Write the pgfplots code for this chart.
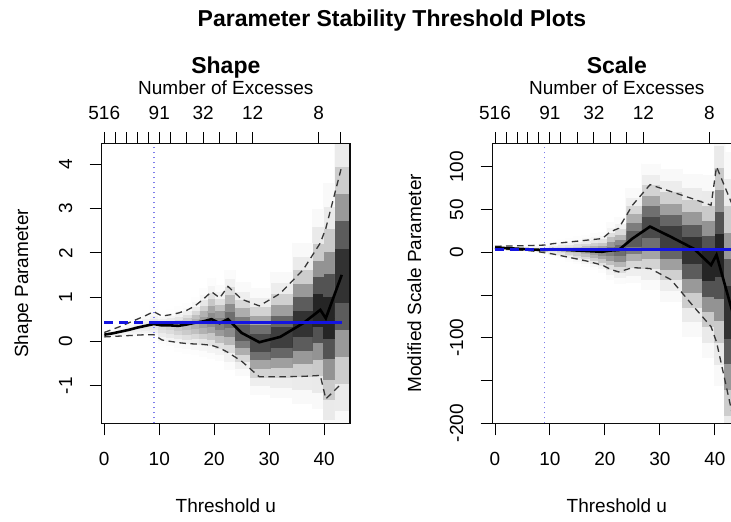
\documentclass[border=0pt]{standalone}
\usepackage{fontspec}
\setmainfont{Liberation Sans}
\usepackage{pgfplots}
\usepackage{pgfplotstable}
\pgfplotsset{compat=1.18}

% ---------- Shape panel data ----------
\pgfplotstableread{
u est lo hi
0 0.15 0.10 0.20
1.5 0.18 0.11 0.27
3 0.22 0.12 0.34
4.5 0.26 0.13 0.42
6 0.31 0.14 0.50
7.5 0.35 0.15 0.58
9 0.39 0.15 0.67
10.5 0.36 0.03 0.57
12 0.36 0.00 0.60
13.5 0.35 -0.03 0.64
15 0.38 -0.05 0.70
16.5 0.42 -0.06 0.80
18 0.45 -0.07 0.95
19.5 0.50 -0.09 1.12
21 0.41 -0.15 0.98
22.5 0.50 -0.25 1.24
25 0.19 -0.45 0.95
28.2 -0.02 -0.80 0.80
32 0.10 -0.80 1.08
36.2 0.41 -0.79 1.62
39.3 0.71 -0.77 2.22
40.3 0.52 -1.30 2.55
43.2 1.50 -0.95 3.95
}\shapelines

\pgfplotstableread{
x est lo hi d
-0.75 0.15 0.10 0.20 0.04
0.75 0.15 0.10 0.20 0.04
0.75 0.18 0.11 0.27 0.05
2.25 0.18 0.11 0.27 0.05
2.25 0.22 0.12 0.34 0.06
3.75 0.22 0.12 0.34 0.06
3.75 0.26 0.13 0.42 0.07
5.25 0.26 0.13 0.42 0.07
5.25 0.31 0.14 0.50 0.08
6.75 0.31 0.14 0.50 0.08
6.75 0.35 0.15 0.58 0.10
8.25 0.35 0.15 0.58 0.10
8.25 0.39 0.15 0.67 0.12
9.75 0.39 0.15 0.67 0.12
9.75 0.36 0.03 0.57 0.15
11.25 0.36 0.03 0.57 0.15
11.25 0.36 0.00 0.60 0.18
12.75 0.36 0.00 0.60 0.18
12.75 0.35 -0.03 0.64 0.22
14.25 0.35 -0.03 0.64 0.22
14.25 0.38 -0.05 0.70 0.27
15.75 0.38 -0.05 0.70 0.27
15.75 0.42 -0.06 0.80 0.33
17.25 0.42 -0.06 0.80 0.33
17.25 0.45 -0.07 0.95 0.40
18.75 0.45 -0.07 0.95 0.40
18.75 0.50 -0.09 1.12 0.47
20.25 0.50 -0.09 1.12 0.47
20.25 0.41 -0.15 0.98 0.53
21.75 0.41 -0.15 0.98 0.53
21.75 0.50 -0.25 1.24 0.60
23.75 0.50 -0.25 1.24 0.60
23.75 0.19 -0.45 0.95 0.68
26.6 0.19 -0.45 0.95 0.68
26.6 -0.02 -0.80 0.80 0.75
30.1 -0.02 -0.80 0.80 0.75
30.1 0.10 -0.80 1.08 0.80
34.1 0.10 -0.80 1.08 0.80
34.1 0.41 -0.79 1.62 0.85
37.75 0.41 -0.79 1.62 0.85
37.75 0.71 -0.77 2.22 0.90
39.8 0.71 -0.77 2.22 0.90
39.8 0.52 -1.30 2.55 0.90
41.75 0.52 -1.30 2.55 0.90
41.75 1.50 -0.95 3.95 0.85
44.75 1.50 -0.95 3.95 0.85
}\shapebase

% ---------- Scale panel data ----------
\pgfplotstableread{
u est lo hi
0 5.5 4 7
1.5 5.0 3.5 7.2
3 4.5 3 7.4
4.5 4.0 2.5 7.6
6 3.5 2 7.8
7.5 3.0 1 8.1
9 2.6 -0.5 8.4
10.5 3.5 -2 10
12 3.0 -4 11
13.5 2.5 -6 12
15 2.0 -8 13
16.5 1.5 -10 14
18 1.0 -12.5 15
19.5 0.6 -15 16
21 2.0 -20 24
22.5 2.6 -23 28
25 16 -18 55
28.2 30 -19 79
32 18 -32 71
36.2 4 -64 62
39.3 -15 -87 55
40.3 -3 -105 100
43.2 -70 -190 55
}\scalelines

\pgfplotstableread{
x est lo hi d
-0.75 5.5 4 7 0.04
0.75 5.5 4 7 0.04
0.75 5.0 3.5 7.2 0.05
2.25 5.0 3.5 7.2 0.05
2.25 4.5 3 7.4 0.06
3.75 4.5 3 7.4 0.06
3.75 4.0 2.5 7.6 0.07
5.25 4.0 2.5 7.6 0.07
5.25 3.5 2 7.8 0.08
6.75 3.5 2 7.8 0.08
6.75 3.0 1 8.1 0.10
8.25 3.0 1 8.1 0.10
8.25 2.6 -0.5 8.4 0.12
9.75 2.6 -0.5 8.4 0.12
9.75 3.5 -2 10 0.15
11.25 3.5 -2 10 0.15
11.25 3.0 -4 11 0.18
12.75 3.0 -4 11 0.18
12.75 2.5 -6 12 0.22
14.25 2.5 -6 12 0.22
14.25 2.0 -8 13 0.27
15.75 2.0 -8 13 0.27
15.75 1.5 -10 14 0.33
17.25 1.5 -10 14 0.33
17.25 1.0 -12.5 15 0.40
18.75 1.0 -12.5 15 0.40
18.75 0.6 -15 16 0.47
20.25 0.6 -15 16 0.47
20.25 2.0 -20 24 0.53
21.75 2.0 -20 24 0.53
21.75 2.6 -23 28 0.60
23.75 2.6 -23 28 0.60
23.75 16 -18 55 0.68
26.6 16 -18 55 0.68
26.6 30 -19 79 0.75
30.1 30 -19 79 0.75
30.1 18 -32 71 0.80
34.1 18 -32 71 0.80
34.1 4 -64 62 0.85
37.75 4 -64 62 0.85
37.75 -15 -87 55 0.90
39.8 -15 -87 55 0.90
39.8 -3 -105 100 0.90
41.75 -3 -105 100 0.90
41.75 -70 -190 55 0.85
44.75 -70 -190 55 0.85
}\scalebase

% replicate the strip table for the 13 shading levels
\foreach \i in {1,...,13}{%
  \global\let\tmpA\relax
}
\pgfplotstablevertcat{\shapemesh}{\shapebase}
\pgfplotstablevertcat{\shapemesh}{\shapebase}
\pgfplotstablevertcat{\shapemesh}{\shapebase}
\pgfplotstablevertcat{\shapemesh}{\shapebase}
\pgfplotstablevertcat{\shapemesh}{\shapebase}
\pgfplotstablevertcat{\shapemesh}{\shapebase}
\pgfplotstablevertcat{\shapemesh}{\shapebase}
\pgfplotstablevertcat{\shapemesh}{\shapebase}
\pgfplotstablevertcat{\shapemesh}{\shapebase}
\pgfplotstablevertcat{\shapemesh}{\shapebase}
\pgfplotstablevertcat{\shapemesh}{\shapebase}
\pgfplotstablevertcat{\shapemesh}{\shapebase}
\pgfplotstablevertcat{\shapemesh}{\shapebase}
\pgfplotstablevertcat{\scalemesh}{\scalebase}
\pgfplotstablevertcat{\scalemesh}{\scalebase}
\pgfplotstablevertcat{\scalemesh}{\scalebase}
\pgfplotstablevertcat{\scalemesh}{\scalebase}
\pgfplotstablevertcat{\scalemesh}{\scalebase}
\pgfplotstablevertcat{\scalemesh}{\scalebase}
\pgfplotstablevertcat{\scalemesh}{\scalebase}
\pgfplotstablevertcat{\scalemesh}{\scalebase}
\pgfplotstablevertcat{\scalemesh}{\scalebase}
\pgfplotstablevertcat{\scalemesh}{\scalebase}
\pgfplotstablevertcat{\scalemesh}{\scalebase}
\pgfplotstablevertcat{\scalemesh}{\scalebase}
\pgfplotstablevertcat{\scalemesh}{\scalebase}

\definecolor{estblue}{RGB}{20,20,225}
\definecolor{dotblue}{RGB}{125,125,235}
\definecolor{cigray}{RGB}{55,55,55}
\definecolor{framecol}{RGB}{12,12,12}

\pgfplotsset{
  psbase/.style={
    scale only axis, width=248.3pt, height=280pt,
    anchor=south west,
    /pgf/number format/assume math mode=true,
    tick label style={font=\fontsize{19}{22}\selectfont},
    label style={font=\fontsize{19}{22}\selectfont},
    title style={font=\fontsize{23}{27}\selectfont\bfseries,
      at={([yshift=64pt]axis description cs:0.5,1)}, anchor=base},
    axis line style={draw=framecol, line width=1.3pt},
    tick style={line width=1pt, black},
    major tick length=12pt,
    tick align=outside,
    tick pos=left,
    xticklabel style={anchor=center, yshift=-23.7pt},
    yticklabel style={xshift=-24pt, rotate=90, anchor=center},
    xlabel style={at={([yshift=-82.7pt]axis description cs:0.5,0)}, anchor=center},
    ylabel style={at={([xshift=-78.4pt]axis description cs:0,0.5)}, anchor=center},
    colormap={bwmap}{rgb255=(255,255,255) rgb255=(0,0,0)},
    point meta min=0, point meta max=1,
  },
  topaxis/.style={
    scale only axis, width=248.3pt, height=280pt,
    anchor=south west,
    ymin=0, ymax=1, ytick=\empty,
    xtick={0,2,4,6,8,10,12,15,18,21,24,27,39,43},
    xticklabels={516,,,,,91,,,32,,,12,8,},
    tick pos=right, xticklabel pos=upper,
    tick align=outside, major tick length=11pt,
    tick style={line width=1pt, black},
    axis line style={draw=framecol, line width=1.3pt},
    tick label style={font=\fontsize{19}{22}\selectfont},
    label style={font=\fontsize{19}{22}\selectfont},
    xticklabel style={anchor=center, yshift=19pt},
    xlabel={Number of Excesses},
    xlabel style={at={([yshift=55.3pt]axis description cs:0.5,1)}, anchor=center},
  },
  strips/.style={surf, shader=flat mean, mesh/rows=13, mesh/cols=46,
    point meta=explicit, forget plot},
  cistyle/.style={cigray, line width=1.3pt, dash pattern=on 6.5pt off 4.5pt},
  eststyle/.style={black, line width=2.6pt},
  dotstyle/.style={dotblue, line width=1.5pt, dash pattern=on 1.5pt off 3.5pt},
}

\begin{document}
\begin{tikzpicture}
\node[font=\fontsize{23}{27}\selectfont\bfseries, anchor=base] at (392pt,495pt) {Parameter Stability Threshold Plots};

% ---------------- Shape ----------------
\begin{axis}[psbase, at={(101.7pt,98.7pt)},
  xmin=-0.47, xmax=44.7, ymin=-1.85, ymax=4.47,
  xtick={0,10,20,30,40}, ytick={-1,0,1,2,3,4},
  title={Shape}, xlabel={Threshold u}, ylabel={Shape Parameter}]
\addplot[strips] table[x=x,
  y expr={\thisrow{est}+((floor(\coordindex/46)-6)/2)*((floor(\coordindex/46)<6) ? (\thisrow{est}-\thisrow{lo})/2 : (\thisrow{hi}-\thisrow{est})/2)},
  meta expr={\thisrow{d}*exp(-0.125*(floor(\coordindex/46)-6)^2)}] {\shapemesh};
\addplot[dotstyle] coordinates {(9,-1.85) (9,4.47)};
\addplot[cistyle] table[x=u, y=hi] {\shapelines};
\addplot[cistyle] table[x=u, y=lo] {\shapelines};
\addplot[eststyle] table[x=u, y=est] {\shapelines};
\addplot[estblue, line width=2.8pt, dash pattern=on 9pt off 6pt] coordinates {(0,0.42) (9,0.42)};
\addplot[estblue, line width=2.8pt] coordinates {(9,0.42) (43.2,0.42)};
\end{axis}
\begin{axis}[topaxis, at={(101.7pt,98.7pt)}, xmin=-0.47, xmax=44.7]
\end{axis}

% ---------------- Scale ----------------
\begin{axis}[psbase, at={(492.7pt,98.7pt)},
  xmin=-0.42, xmax=44.75, ymin=-200, ymax=127.4,
  xtick={0,10,20,30,40}, ytick={-200,-150,-100,-50,0,50,100},
  yticklabels={-200,,-100,,0,50,100},
  title={Scale}, xlabel={Threshold u}, ylabel={Modified Scale Parameter}]
\addplot[strips] table[x=x,
  y expr={\thisrow{est}+((floor(\coordindex/46)-6)/2)*((floor(\coordindex/46)<6) ? (\thisrow{est}-\thisrow{lo})/2 : (\thisrow{hi}-\thisrow{est})/2)},
  meta expr={\thisrow{d}*exp(-0.125*(floor(\coordindex/46)-6)^2)}] {\scalemesh};
\addplot[dotstyle] coordinates {(9,-200) (9,127.4)};
\addplot[cistyle] table[x=u, y=hi] {\scalelines};
\addplot[cistyle] table[x=u, y=lo] {\scalelines};
\addplot[eststyle] table[x=u, y=est] {\scalelines};
\addplot[estblue, line width=2.8pt, dash pattern=on 9pt off 6pt] coordinates {(0,3) (9,3)};
\addplot[estblue, line width=2.8pt] coordinates {(9,3) (43.2,3)};
\end{axis}
\begin{axis}[topaxis, at={(492.7pt,98.7pt)}, xmin=-0.42, xmax=44.75]
\end{axis}

% plot frames
\draw[framecol, line width=1.3pt] (101.7pt,98.7pt) rectangle (350pt,378.7pt);
\draw[framecol, line width=1.3pt] (492.7pt,98.7pt) rectangle (741pt,378.7pt);

\pgfresetboundingbox
\path (0pt,0pt) rectangle (731pt,522pt);
\end{tikzpicture}
\end{document}
